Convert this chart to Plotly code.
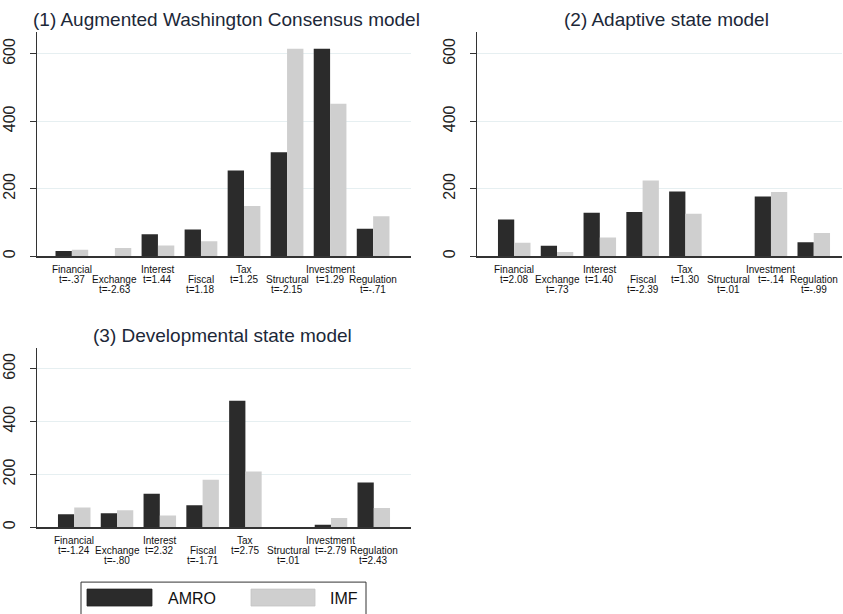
import plotly.graph_objects as go

W, H = 843, 614

categories = ["Financial", "Exchange", "Interest", "Fiscal", "Tax", "Structural", "Investment", "Regulation"]

titles = ["(1) Augmented Washington Consensus model", "(2) Adaptive state model", "(3) Developmental state model"]

amro_1 = [15, 0, 65, 79, 254, 308, 615, 81]
imf_1 = [19, 24, 32, 44, 149, 615, 452, 118]
t_1 = ["t=-.37", "t=-2.63", "t=1.44", "t=1.18", "t=1.25", "t=-2.15", "t=1.29", "t=-.71"]

amro_2 = [109, 31, 129, 131, 192, 0, 177, 41]
imf_2 = [40, 12, 55, 224, 126, 0, 190, 69]
t_2 = ["t=2.08", "t=.73", "t=1.40", "t=-2.39", "t=1.30", "t=.01", "t=-.14", "t=-.99"]

amro_3 = [49, 53, 127, 83, 479, 0, 10, 169]
imf_3 = [75, 64, 45, 180, 211, 0, 35, 73]
t_3 = ["t=-1.24", "t=-.80", "t=2.32", "t=-1.71", "t=2.75", "t=.01", "t=-2.79", "t=2.43"]

y_ticks = [0, 200, 400, 600]
series_names = ["AMRO", "IMF"]

AMRO_C = "#2b2b2b"
IMF_C = "#cfcfcf"
AX_C = "#333333"
GRID_C = "#e6eff1"
TITLE_C = "#1c2838"
FONT = "Liberation Sans, Arial, sans-serif"


def px(x):
    return x / W


def py(y):
    return 1 - y / H


panels = [
    dict(amro=amro_1, imf=imf_1, t=t_1, title=titles[0], xd=(37, 411), yd=(257, 32),
         xr=(-0.81, 7.88), yr=(0, 665), tx=226, ty=20),
    dict(amro=amro_2, imf=imf_2, t=t_2, title=titles[1], xd=(477, 842), yd=(257, 32),
         xr=(-0.87, 7.66), yr=(0, 665), tx=666, ty=20),
    dict(amro=amro_3, imf=imf_3, t=t_3, title=titles[2], xd=(37, 411), yd=(529, 349),
         xr=(-0.87, 7.87), yr=(0, 679), tx=222, ty=337),
]

fig = go.Figure()
annotations = []
shapes = []
xpos = list(range(len(categories)))

for i, p in enumerate(panels, start=1):
    xa = "x" if i == 1 else f"x{i}"
    ya = "y" if i == 1 else f"y{i}"
    fig.add_trace(go.Bar(x=xpos, y=p["amro"], name=series_names[0], marker=dict(color=AMRO_C, line=dict(width=0)),
                         xaxis=xa, yaxis=ya, offsetgroup="a", showlegend=False))
    fig.add_trace(go.Bar(x=xpos, y=p["imf"], name=series_names[1], marker=dict(color=IMF_C, line=dict(width=0)),
                         xaxis=xa, yaxis=ya, offsetgroup="b", showlegend=False))
    xkey = "xaxis" if i == 1 else f"xaxis{i}"
    ykey = "yaxis" if i == 1 else f"yaxis{i}"
    fig.update_layout(**{
        xkey: dict(domain=[px(p["xd"][0]), px(p["xd"][1])], range=list(p["xr"]), anchor=ya,
                   showline=True, linecolor=AX_C, linewidth=1.5, showgrid=False, zeroline=False,
                   showticklabels=False, ticks="", fixedrange=True),
        ykey: dict(domain=[py(p["yd"][0]), py(p["yd"][1])], range=list(p["yr"]), anchor=xa,
                   showline=True, linecolor=AX_C, linewidth=1.5, showgrid=True, gridcolor=GRID_C,
                   gridwidth=1, zeroline=False, tickvals=y_ticks, ticks="outside", ticklen=6,
                   tickcolor=AX_C, tickwidth=1.2, tickangle=-90, ticklabelstandoff=8,
                   tickfont=dict(family=FONT, size=16, color="#222222"), fixedrange=True),
    })
    annotations.append(dict(text=p["title"], xref="paper", yref="paper", x=px(p["tx"]), y=py(p["ty"]),
                            xanchor="center", yanchor="middle", showarrow=False,
                            font=dict(family=FONT, size=19, color=TITLE_C)))
    zero = p["yd"][0]
    for j, (cat, tv) in enumerate(zip(categories, p["t"])):
        off = 0 if j % 2 == 0 else 1
        for k, txt in enumerate([cat, tv]):
            yline = zero + 13.7 + (off + k) * 9.7
            annotations.append(dict(text=txt, xref=xa, yref="paper", x=j, y=py(yline),
                                    xanchor="center", yanchor="middle", showarrow=False,
                                    font=dict(family=FONT, size=10, color="#111111")))

# legend box
shapes.append(dict(type="rect", xref="paper", yref="paper", x0=px(81), x1=px(366), y0=py(640), y1=py(584),
                   line=dict(color=AX_C, width=1), fillcolor="rgba(0,0,0,0)"))
shapes.append(dict(type="rect", xref="paper", yref="paper", x0=px(87), x1=px(152), y0=py(608), y1=py(591),
                   line=dict(color="#222222", width=0.8), fillcolor=AMRO_C))
shapes.append(dict(type="rect", xref="paper", yref="paper", x0=px(251), x1=px(315), y0=py(608), y1=py(591),
                   line=dict(color="#c4c4c4", width=0.8), fillcolor=IMF_C))
annotations.append(dict(text=series_names[0], xref="paper", yref="paper", x=px(166), y=py(600),
                        xanchor="left", yanchor="middle", showarrow=False,
                        font=dict(family=FONT, size=16, color="#111111")))
annotations.append(dict(text=series_names[1], xref="paper", yref="paper", x=px(328), y=py(600),
                        xanchor="left", yanchor="middle", showarrow=False,
                        font=dict(family=FONT, size=16, color="#111111")))

fig.update_layout(
    width=W, height=H, margin=dict(l=0, r=0, t=0, b=0),
    paper_bgcolor="white", plot_bgcolor="white",
    barmode="group", bargap=0.24, bargroupgap=0,
    annotations=annotations, shapes=shapes, showlegend=False,
    font=dict(family=FONT), hovermode=False,
)

fig.write_html("out.html", config={"displayModeBar": False, "staticPlot": True},
               post_script="document.body.style.margin='0';document.body.style.overflow='hidden';")
